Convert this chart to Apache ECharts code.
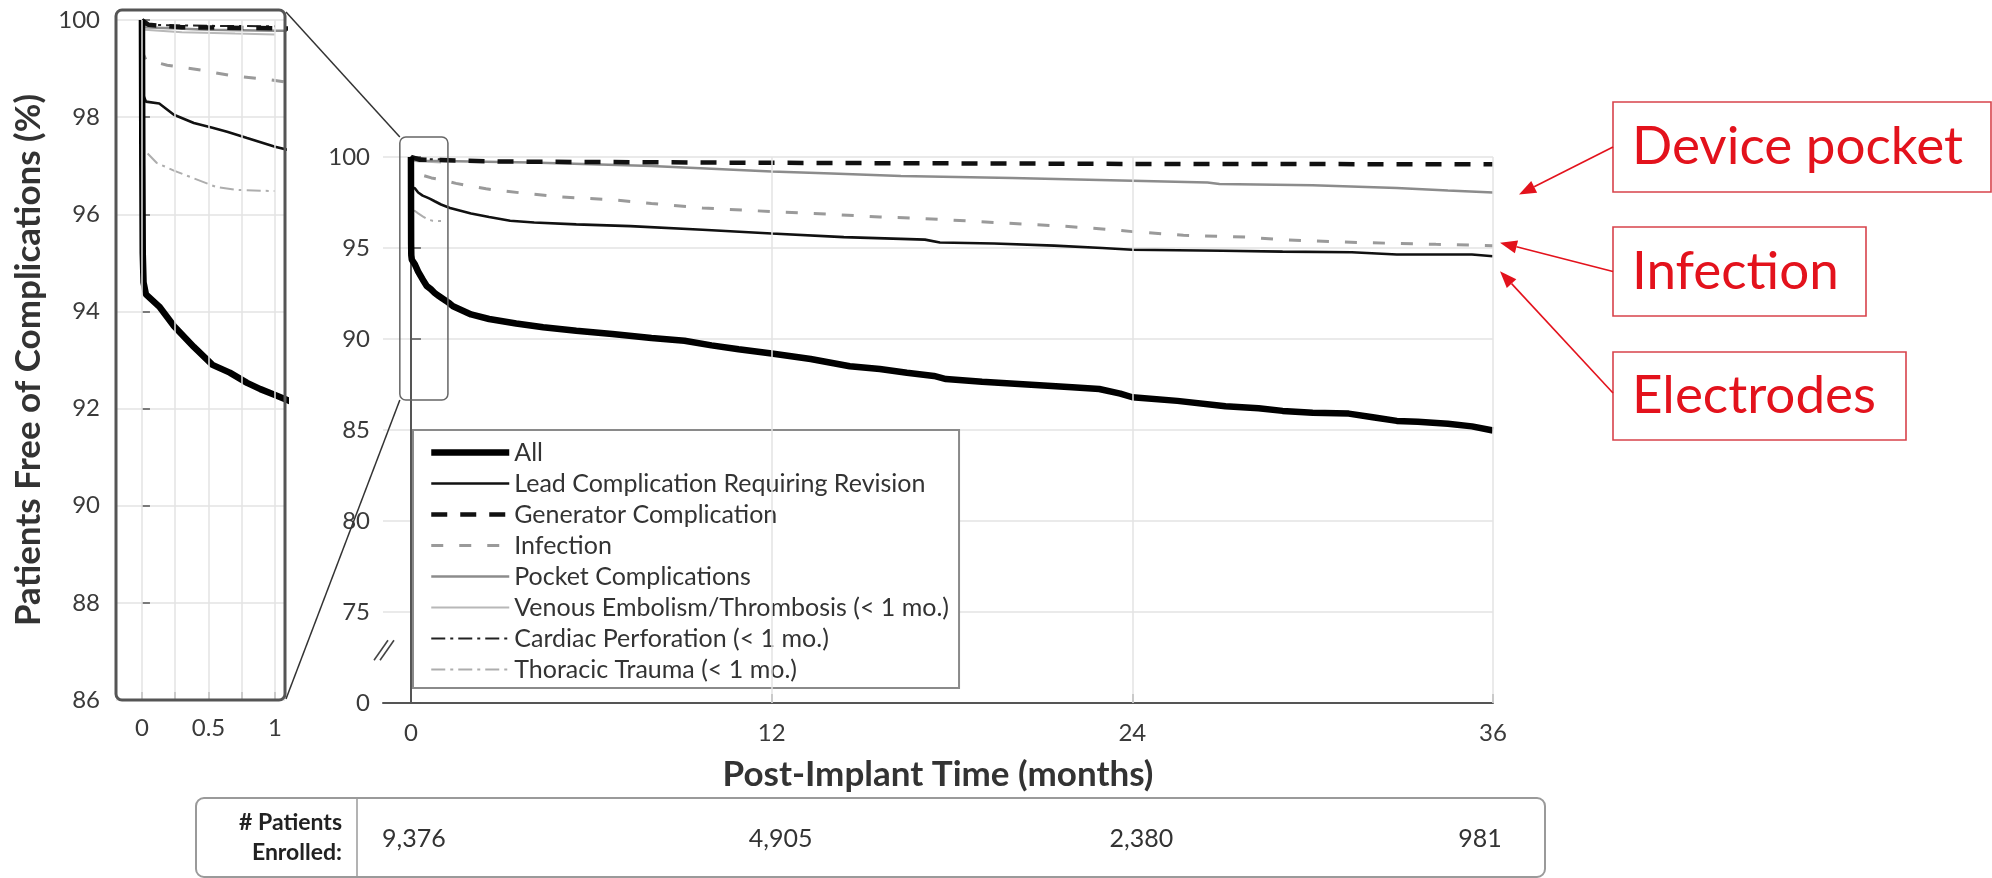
<!DOCTYPE html>
<html><head><meta charset="utf-8">
<script src="https://cdn.jsdelivr.net/npm/echarts@6/dist/echarts.min.js"></script>
<style>html,body{margin:0;padding:0;background:#fff}#c{width:1992px;height:878px}</style>
</head><body><div id="c"></div>
<script>
// ---------- DATA ----------
const seriesNames = ['All','Lead Complication Requiring Revision','Generator Complication','Infection','Pocket Complications','Venous Embolism/Thrombosis (< 1 mo.)','Cardiac Perforation (< 1 mo.)','Thoracic Trauma (< 1 mo.)'];
// [month, % free of complication]
const allData = [[0,100],[0.003,97],[0.006,95.2],[0.012,94.6],[0.03,94.35],[0.13,94.1],[0.24,93.7],[0.39,93.27],[0.53,92.9],[0.66,92.74],[0.79,92.53],[0.89,92.4],[1.0,92.28],[1.25,92.0],[1.4,91.8],[2,91.35],[2.6,91.1],[3.5,90.85],[4.4,90.65],[5.5,90.45],[6.7,90.27],[8,90.05],[9.1,89.9],[10,89.65],[10.9,89.44],[12,89.2],[13.3,88.9],[14.6,88.5],[15.6,88.35],[16.5,88.15],[17.4,87.97],[17.8,87.8],[19,87.65],[20.5,87.5],[22,87.35],[22.9,87.25],[23.6,87.0],[24,86.8],[25.5,86.6],[27.1,86.3],[28.2,86.2],[29,86.05],[30,85.95],[31.2,85.9],[32,85.7],[32.8,85.5],[33.5,85.45],[34.5,85.34],[35.3,85.2],[36,84.97]];
const leadData = [[0,100],[0.005,99],[0.01,98.45],[0.03,98.32],[0.13,98.28],[0.24,98.05],[0.39,97.88],[0.53,97.78],[0.64,97.7],[0.79,97.57],[1.0,97.39],[1.3,97.2],[2,96.9],[2.6,96.7],[3.3,96.5],[4.1,96.4],[5.5,96.3],[7.3,96.2],[9.7,96.0],[12,95.8],[14.4,95.6],[16.3,95.5],[17.1,95.46],[17.6,95.3],[19.4,95.25],[21.4,95.13],[23,95.0],[24,94.9],[27,94.85],[29,94.8],[31.3,94.77],[32.8,94.64],[35.3,94.64],[36,94.55]];
const generatorData = [[0,100],[0.05,99.9],[0.3,99.85],[1,99.83],[3,99.75],[12,99.68],[24,99.62],[36,99.6]];
const infectionData = [[0,100],[0.01,99.3],[0.03,99.18],[0.19,99.07],[0.44,98.97],[0.68,98.85],[0.96,98.77],[1.5,98.55],[2.5,98.25],[3.8,98.0],[5,97.8],[6.7,97.65],[8,97.45],[9.7,97.2],[12,97.0],[14,96.85],[15.6,96.7],[16.7,96.65],[18.9,96.45],[20.5,96.3],[21.7,96.2],[23,96.05],[24,95.9],[25.7,95.7],[27.8,95.6],[29,95.45],[31.6,95.3],[34.1,95.2],[36,95.13]];
const pocketData = [[0,100],[0.02,99.85],[0.5,99.8],[1,99.78],[4,99.7],[8,99.5],[12,99.2],[14,99.1],[16.3,98.96],[20,98.85],[24,98.7],[26.5,98.6],[26.9,98.52],[30,98.45],[32.8,98.3],[34.5,98.16],[36,98.05]];
const venousData = [[0,100],[0.02,99.8],[0.3,99.75],[0.7,99.72],[1,99.7]];
const cardiacData = [[0,100],[0.02,99.9],[0.5,99.88],[1,99.87]];
const thoracicData = [[0,100],[0.008,98.5],[0.015,97.33],[0.11,97.06],[0.24,96.9],[0.39,96.74],[0.56,96.56],[0.72,96.5],[0.96,96.48],[1,96.48]];

const mainXTicks = [0,12,24,36];
const mainXGrid = [12,24,36];
const insetXTicks = [0,0.25,0.5,0.75,1];
const insetXLabels = [0,0.5,1];
const enrolledMonths = [0,12,24,36];
const enrolledCounts = ['9,376','4,905','2,380','981'];
const tableHeader = ['# Patients','Enrolled:'];
const annotationTexts = ['Device pocket','Infection','Electrodes'];

// ---------- STYLE ----------
const FONT = 'Lato';
const dataList = [allData, leadData, generatorData, infectionData, pocketData, venousData, cardiacData, thoracicData];
const styles = [
  {color:'#000', width:6.5, type:'solid'},
  {color:'#111', width:2.6, type:'solid'},
  {color:'#111', width:4.5, type:[16,13]},
  {color:'#9a9a9a', width:3, type:[12,16]},
  {color:'#8c8c8c', width:2.5, type:'solid'},
  {color:'#b8b8b8', width:2, type:'solid'},
  {color:'#222', width:2, type:[14,5,3,5]},
  {color:'#adadad', width:2, type:[14,5,3,5]}
];
const drawOrder = [5,7,4,3,6,2,1,0];

const INSET = {left:116, top:20, width:169, height:680};
const MAIN = {left:383, top:157, width:1110, height:546};

const series = [];
[0,1].forEach(g => {
  drawOrder.forEach(i => {
    series.push({
      type:'line', name: seriesNames[i], data: dataList[i],
      xAxisIndex:g, yAxisIndex:g, symbol:'none', silent:true, animation:false, clip:true,
      lineStyle:{color:styles[i].color, width:styles[i].width, type:styles[i].type, cap:'butt'},
      itemStyle:{color:styles[i].color}
    });
  });
});
// grid line helpers
series.unshift({type:'line', data:[], xAxisIndex:0, yAxisIndex:0, silent:true, animation:false,
  markLine:{silent:true, animation:false, symbol:['none','none'], label:{show:false},
    lineStyle:{color:'#e3e3e3', width:1.5, type:'solid'}, data: insetXTicks.map(v => ({xAxis:v}))}});
series.unshift({type:'line', data:[], xAxisIndex:1, yAxisIndex:1, silent:true, animation:false,
  markLine:{silent:true, animation:false, symbol:['none','none'], label:{show:false},
    lineStyle:{color:'#e3e3e3', width:1.5, type:'solid'}, data: mainXGrid.map(v => ({xAxis:v}))}});

const axisLabelStyle = {fontFamily:FONT, fontSize:24, color:'#3a3a3a'};
const option = {
  backgroundColor:'#fff',
  animation:false,
  grid:[
    {left:INSET.left, top:INSET.top, width:INSET.width, height:INSET.height},
    {left:MAIN.left, top:MAIN.top, width:MAIN.width, height:MAIN.height}
  ],
  xAxis:[
    {type:'value', gridIndex:0, min:-0.195, max:1.075,
     axisLine:{show:false}, splitLine:{show:false},
     axisTick:{inside:true, length:8, customValues:insetXTicks, lineStyle:{color:'#555', width:1.5}},
     axisLabel:Object.assign({customValues:insetXLabels, margin:16}, axisLabelStyle)},
    {type:'value', gridIndex:1, min:-0.93, max:36,
     axisLine:{show:true, lineStyle:{color:'#555', width:2}}, splitLine:{show:false},
     axisTick:{inside:true, length:9, customValues:mainXTicks, lineStyle:{color:'#555', width:1.5}},
     axisLabel:Object.assign({customValues:mainXTicks, margin:18}, axisLabelStyle),
     name:'Post-Implant Time (months)', nameLocation:'middle', nameGap:54,
     nameTextStyle:{fontFamily:FONT, fontSize:35, fontWeight:'bold', color:'#333'}}
  ],
  yAxis:[
    {type:'value', gridIndex:0, min:86, max:100, interval:2,
     axisLine:{show:false},
     splitLine:{show:true, lineStyle:{color:'#e3e3e3', width:1.5}},
     axisTick:{show:true, inside:true, length:8, lineStyle:{color:'#555', width:1.5}},
     axisLabel:Object.assign({margin:16}, axisLabelStyle),
     name:'Patients Free of Complications (%)', nameLocation:'middle', nameGap:70,
     nameTextStyle:{fontFamily:FONT, fontSize:35, fontWeight:'bold', color:'#333'}},
    {type:'value', gridIndex:1, min:70, max:100, interval:5,
     axisLine:{show:true, lineStyle:{color:'#555', width:2}},
     splitLine:{show:true, lineStyle:{color:'#e3e3e3', width:1.5}},
     axisTick:{show:true, inside:true, length:10, lineStyle:{color:'#555', width:1.5}},
     axisLabel:Object.assign({margin:13, formatter: v => v === 70 ? '0' : String(v)}, axisLabelStyle)}
  ],
  legend:{
    data: seriesNames, orient:'vertical', left:413, top:430,
    padding:[10,10,6,15], itemWidth:78, itemHeight:24, itemGap:6,
    backgroundColor:'#fff', borderColor:'#8a8a8a', borderWidth:2,
    itemStyle:{opacity:0}, lineStyle:{width:'inherit'}, selectedMode:false,
    textStyle:{fontFamily:FONT, fontSize:25, color:'#333'}
  },
  series: series
};

const chart = echarts.init(document.getElementById('c'), null, {renderer:'canvas'});
chart.setOption(option);

// ---------- DECORATIONS ----------
const P = (x, y) => chart.convertToPixel({gridIndex:1}, [x, y]);
const g = [];
// inset frame
const fr = {x:INSET.left, y:10, w:INSET.width, h:INSET.top + INSET.height - 10};
g.push({type:'rect', z:10, silent:true, shape:{x:fr.x, y:fr.y, width:fr.w, height:fr.h, r:6},
  style:{fill:'none', stroke:'#555', lineWidth:3}});
// zoom box in main chart
const bTL = P(-0.37, 101.1), bBR = P(1.23, 86.65);
g.push({type:'rect', z:10, silent:true, shape:{x:bTL[0], y:bTL[1], width:bBR[0]-bTL[0], height:bBR[1]-bTL[1], r:6},
  style:{fill:'none', stroke:'#666', lineWidth:1.5}});
// connectors
g.push({type:'line', z:10, silent:true, shape:{x1:fr.x+fr.w+1, y1:fr.y+2, x2:bTL[0], y2:bTL[1]}, style:{stroke:'#333', lineWidth:1.5}});
g.push({type:'line', z:10, silent:true, shape:{x1:fr.x+fr.w+1, y1:fr.y+fr.h-1, x2:bTL[0], y2:bBR[1]}, style:{stroke:'#333', lineWidth:1.5}});
// axis break marks
const br = P(-0.93, 72.9);
[0,6].forEach(d => g.push({type:'line', z:10, silent:true,
  shape:{x1:br[0]-9+d, y1:br[1]+10, x2:br[0]+5+d, y2:br[1]-10}, style:{stroke:'#444', lineWidth:1.6}}));
// enrolment table
const T = {x:196, y:798, w:1349, h:79, div:357};
const numShift = [3, 9, 9, -13];
g.push({type:'rect', silent:true, shape:{x:T.x, y:T.y, width:T.w, height:T.h, r:8}, style:{fill:'#fff', stroke:'#9a9a9a', lineWidth:2}});
g.push({type:'line', silent:true, shape:{x1:T.div, y1:T.y, x2:T.div, y2:T.y+T.h}, style:{stroke:'#9a9a9a', lineWidth:1.5}});
tableHeader.forEach((t, i) => g.push({type:'text', silent:true, style:{text:t, x:T.div-15, y:T.y+25+i*30,
  align:'right', verticalAlign:'middle', font:'bold 23px ' + FONT, fill:'#222'}}));
enrolledMonths.forEach((m, i) => {
  const px = P(m, 90)[0] + numShift[i];
  g.push({type:'text', silent:true, style:{text:enrolledCounts[i], x:px, y:T.y+41,
    align:'center', verticalAlign:'middle', font:'25px ' + FONT, fill:'#333'}});
});
// red annotations
const RED = '#e3121c';
const ends = [pocketData[pocketData.length-1], infectionData[infectionData.length-1], leadData[leadData.length-1]];
const tipOff = [[26,2],[7,-3],[7,15]];
const boxes = [{y:102, h:90, w:378}, {y:227, h:89, w:253}, {y:352, h:88, w:293}];
const BX = 1613;
function arrow(x1, y1, x2, y2) {
  const a = Math.atan2(y2-y1, x2-x1), L = 17, W = 6.5;
  const bx = x2 - L*Math.cos(a), by = y2 - L*Math.sin(a);
  const nx = -Math.sin(a), ny = Math.cos(a);
  return [
    {type:'line', silent:true, z:12, shape:{x1, y1, x2:bx, y2:by}, style:{stroke:RED, lineWidth:1.6}},
    {type:'polygon', silent:true, z:12, shape:{points:[[x2,y2],[bx+nx*W, by+ny*W],[bx-nx*W, by-ny*W]]}, style:{fill:RED}}
  ];
}
annotationTexts.forEach((t, i) => {
  const b = boxes[i];
  g.push({type:'rect', silent:true, z:12, shape:{x:BX, y:b.y, width:b.w, height:b.h}, style:{fill:'#fff', stroke:'#d8434b', lineWidth:1.6}});
  g.push({type:'text', silent:true, z:13, style:{text:t, x:BX+19, y:b.y+b.h/2, align:'left', verticalAlign:'middle',
    font:'53px ' + FONT, fill:RED}});
  const e = P(ends[i][0], ends[i][1]);
  arrow(BX, b.y + b.h/2 + (i===2 ? -3 : 0), e[0]+tipOff[i][0], e[1]+tipOff[i][1]).forEach(o => g.push(o));
});
chart.setOption({graphic: g});
</script>
</body></html>
